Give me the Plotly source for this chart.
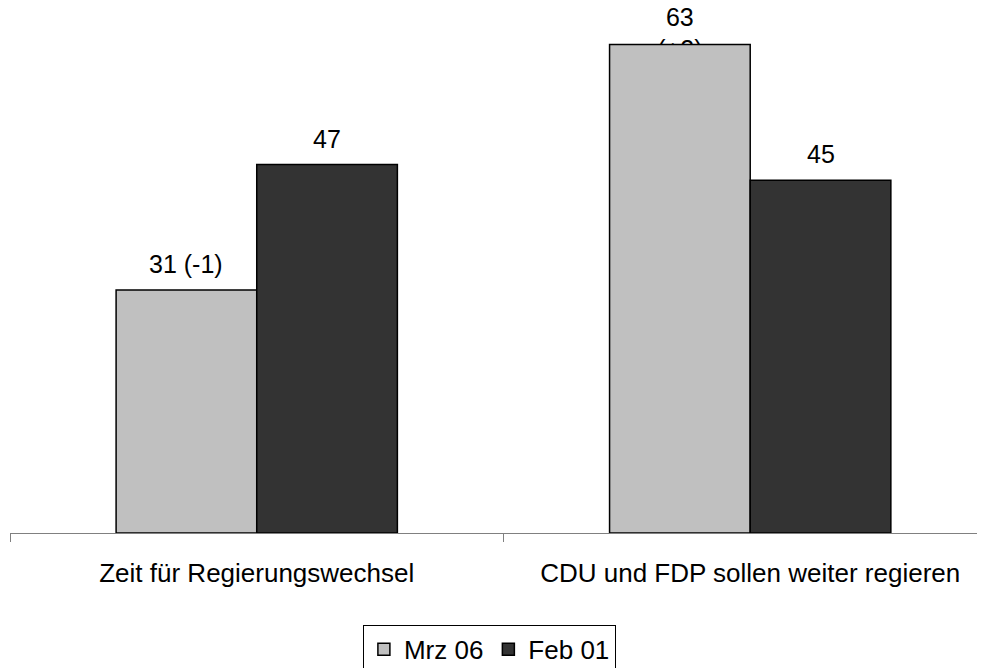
import plotly.graph_objects as go

categories = ["Zeit für Regierungswechsel", "CDU und FDP sollen weiter regieren"]
series_names = ["Mrz 06", "Feb 01"]
mrz06_values = [31, 62.3]
feb01_values = [47, 45]
mrz06_labels = ["31 (-1)", "63<br>(+2)"]
feb01_labels = ["47", "45"]

FONT = "Arial, Liberation Sans, sans-serif"
Y_MAX = 66.96
X_RANGE = [-0.5, 1.492]
BAR_GAP = 0.43
half = (1 - BAR_GAP) / 4  # centre offset of each grouped bar

fig = go.Figure()

# Value labels that sit partly behind the bars (drawn on the base axes, under the bars)
cat_idx = list(range(len(categories)))
under_x, under_y, under_t = [], [], []
for i in cat_idx:
    if "<br>" in mrz06_labels[i]:
        under_x.append(i - half); under_y.append(mrz06_values[i]); under_t.append(mrz06_labels[i])
fig.add_trace(go.Scatter(
    x=under_x, y=under_y, mode="text", text=under_t, textposition="middle center",
    textfont=dict(size=25, color="#000000", family=FONT),
    showlegend=False, hoverinfo="skip", xaxis="x", yaxis="y",
))
# shift the two-line label so its block centre lies just above the bar top
fig.data[0].update(y=[v + 1.15 for v in under_y])

fig.add_trace(go.Bar(
    x=categories, y=mrz06_values, name=series_names[0], xaxis="x2", yaxis="y2",
    marker=dict(color="#c0c0c0", line=dict(color="#000000", width=1.5)),
    hoverinfo="skip",
))
fig.add_trace(go.Bar(
    x=categories, y=feb01_values, name=series_names[1], xaxis="x2", yaxis="y2",
    marker=dict(color="#333333", line=dict(color="#000000", width=1.5)),
    hoverinfo="skip",
))

annotations = []
for i in cat_idx:
    for off, vals, labs in ((-half, mrz06_values, mrz06_labels), (half, feb01_values, feb01_labels)):
        if "<br>" in labs[i]:
            continue
        annotations.append(dict(
            x=i + off, y=vals[i], xref="x", yref="y", text=labs[i], showarrow=False,
            xanchor="center", yanchor="bottom", yshift=10,
            font=dict(size=25, color="#000000", family=FONT),
        ))

fig.update_layout(
    width=985, height=668,
    margin=dict(l=2, r=0, t=0, b=143, autoexpand=False),
    paper_bgcolor="white", plot_bgcolor="white",
    barmode="group", bargap=BAR_GAP, bargroupgap=0,
    font=dict(family=FONT, size=25, color="#000000"),
    showlegend=True,
    legend=dict(
        orientation="h", x=0.359, xanchor="left", y=-0.175, yanchor="top",
        bordercolor="#000000", borderwidth=1, bgcolor="white",
        font=dict(size=26), itemwidth=30, traceorder="normal",
    ),
    xaxis=dict(range=X_RANGE, visible=False),
    yaxis=dict(range=[0, Y_MAX], visible=False),
    xaxis2=dict(
        type="category", range=X_RANGE, overlaying="x",
        showline=True, linecolor="#808080", linewidth=1,
        ticks="outside", tickson="boundaries", ticklen=8, tickcolor="#808080",
        showgrid=False, tickfont=dict(size=26), zeroline=False,
        ticklabelstandoff=17,
    ),
    yaxis2=dict(range=[0, Y_MAX], overlaying="y", visible=False),
    annotations=annotations,
)

fig.write_html("out.html")
